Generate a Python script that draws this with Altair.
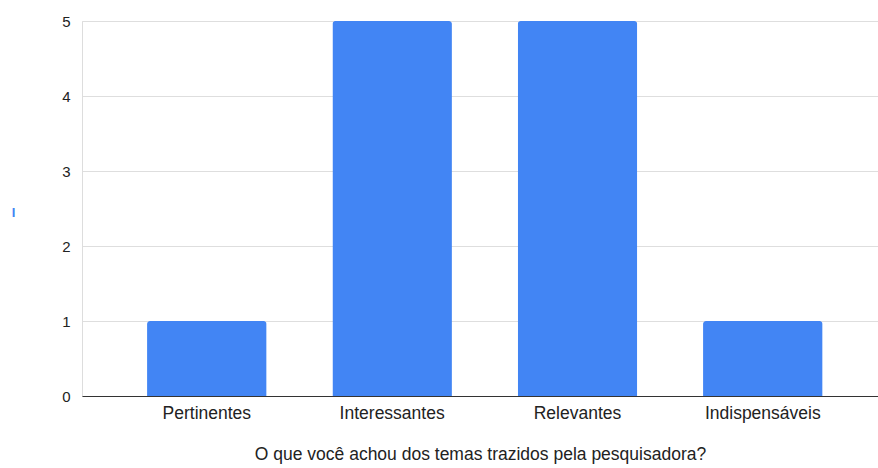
import altair as alt
import pandas as pd

# Survey answers and their counts
categories = ["Pertinentes", "Interessantes", "Relevantes", "Indispensáveis"]
counts = [1, 5, 5, 1]
y_ticks = [0, 1, 2, 3, 4, 5]

x_title = "O que você achou dos temas trazidos pela pesquisadora?"

df = pd.DataFrame({"categoria": categories, "contagem": counts})

FONT = "Liberation Sans"
BLUE = "#4285F4"
TEXT = "#222222"

chart = (
    alt.Chart(df)
    .mark_bar(color=BLUE, cornerRadiusTopLeft=3, cornerRadiusTopRight=3)
    .encode(
        x=alt.X(
            "categoria:N",
            sort=categories,
            scale=alt.Scale(paddingInner=0.355, paddingOuter=0.325, align=0.54),
            axis=alt.Axis(
                title=x_title,
                labelAngle=0,
                labelFontSize=17.5,
                labelColor=TEXT,
                labelFont=FONT,
                labelPadding=8,
                titleFont=FONT,
                titleFontSize=17.5,
                titleFontWeight="normal",
                titleColor=TEXT,
                titlePadding=24,
                ticks=False,
                domainColor="#333333",
                domainWidth=1.2,
            ),
        ),
        y=alt.Y(
            "contagem:Q",
            scale=alt.Scale(domain=[0, 5], nice=False),
            axis=alt.Axis(
                values=y_ticks,
                format="d",
                title="I",
                titleAngle=0,
                titleColor=BLUE,
                titleFont=FONT,
                titleFontSize=13,
                titleFontWeight="bold",
                titleX=-69,
                titleY=191,
                titleBaseline="middle",
                titleAlign="center",
                labelFontSize=15,
                labelColor=TEXT,
                labelFont=FONT,
                labelPadding=12,
                ticks=False,
                domain=False,
                gridColor="#dedede",
                gridWidth=1.2,
            ),
        ),
    )
    .properties(
        width=796,
        height=375,
        autosize=alt.AutoSizeParams(type="none"),
        padding={"left": 82, "top": 21, "right": 0, "bottom": 72},
    )
    .configure_view(stroke=None)
    .configure(background="white")
)

chart.save("out.html", embed_options={"renderer": "svg", "actions": False})
